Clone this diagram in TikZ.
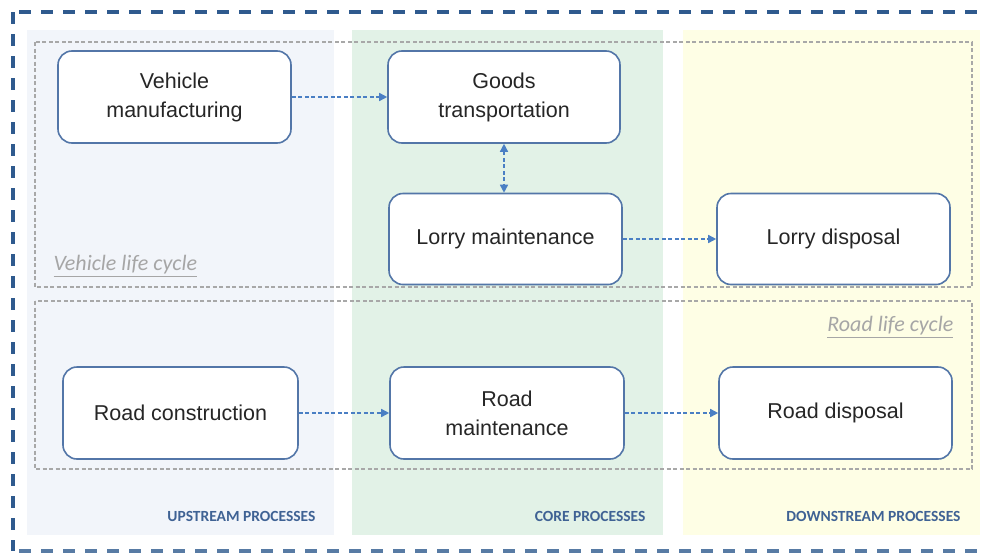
\documentclass[tikz,border=0pt]{standalone}
\usepackage{fontspec}
\setmainfont{Liberation Sans}
\newfontfamily\labelfont{Carlito}
\usetikzlibrary{arrows.meta}
\definecolor{framec}{HTML}{2F5A8E}
\definecolor{boxc}{HTML}{5376A8}
\definecolor{arrowc}{HTML}{4A7FC4}
\definecolor{cyclec}{HTML}{A8A8A8}
\definecolor{upfill}{HTML}{F2F5FA}
\definecolor{corefill}{HTML}{E2F2E7}
\definecolor{downfill}{HTML}{FEFEE5}
\definecolor{phasec}{HTML}{3F6294}
\tikzset{
  procbox/.style={draw=boxc, line width=1.6pt, fill=white, rounded corners=14pt,
    align=center, font=\fontsize{21.5}{29}\selectfont, text=black!85},
  flow/.style={draw=arrowc, line width=1.5pt, dash pattern=on 4pt off 2.5pt,
    -{Triangle[length=8pt,width=8pt]}},
  flowboth/.style={flow, {Triangle[length=8pt,width=8pt]}-{Triangle[length=8pt,width=8pt]}},
  cycle/.style={draw=cyclec, line width=1.1pt, dash pattern=on 4pt off 2.5pt},
  cyclelabel/.style={font=\labelfont\itshape\fontsize{22}{24}\selectfont, text=black!35},
  phaselabel/.style={font=\labelfont\bfseries\fontsize{15.5}{17}\selectfont, text=phasec, anchor=east},
  framedash/.style={line width=4pt, dash pattern=on 12pt off 10pt},
}
\begin{document}
\begin{tikzpicture}[x=1pt,y=-1pt]
\useasboundingbox (0,0) rectangle (987,552);
\fill[white] (0,0) rectangle (987,552);
% process-phase columns
\fill[upfill] (27,30) rectangle (334,535);
\fill[corefill] (352,30) rectangle (663,535);
\fill[downfill] (683,30) rectangle (980,535);
% outer system boundary: left, top and bottom sides only
\draw[framec, framedash] (13,12) -- (13,551);
\draw[framec, framedash] (19,12) -- (984,12);
\draw[framec!80, framedash] (19,551) -- (984,551);
% life-cycle groupings
\draw[cycle] (35,42) rectangle (972,287);
\draw[cycle] (35,301) rectangle (972,469);
\node[cyclelabel, anchor=west] (vlc) at (50,266) {\underline{Vehicle life cycle}};
\node[cyclelabel, anchor=east] (rlc) at (957,327) {\underline{Road life cycle}};
% processes
\node[procbox, minimum width=233pt, minimum height=92pt] (vm) at (174.5,97) {Vehicle\\manufacturing};
\node[procbox, minimum width=232pt, minimum height=92pt] (gt) at (504,97) {Goods\\transportation};
\node[procbox, minimum width=233pt, minimum height=91pt] (lm) at (505.5,239) {Lorry maintenance};
\node[procbox, minimum width=233pt, minimum height=91pt] (ld) at (833.5,239) {Lorry disposal};
\node[procbox, minimum width=235pt, minimum height=92pt] (rc) at (180.5,413) {Road construction};
\node[procbox, minimum width=234pt, minimum height=92pt] (rm) at (507,413) {Road\\maintenance};
\node[procbox, minimum width=233pt, minimum height=92pt] (rd) at (835.5,413) {Road disposal};
% flows
\draw[flow] (vm.east) -- (gt.west);
\draw[flowboth] (gt.south) -- (gt.south |- lm.north);
\draw[flow] (lm.east) -- (ld.west);
\draw[flow] (rc.east) -- (rm.west);
\draw[flow] (rm.east) -- (rd.west);
% phase labels
\node[phaselabel] (up) at (319,516) {UPSTREAM PROCESSES};
\node[phaselabel] (core) at (649,516) {CORE PROCESSES};
\node[phaselabel] (down) at (964,516) {DOWNSTREAM PROCESSES};
\end{tikzpicture}
\end{document}
